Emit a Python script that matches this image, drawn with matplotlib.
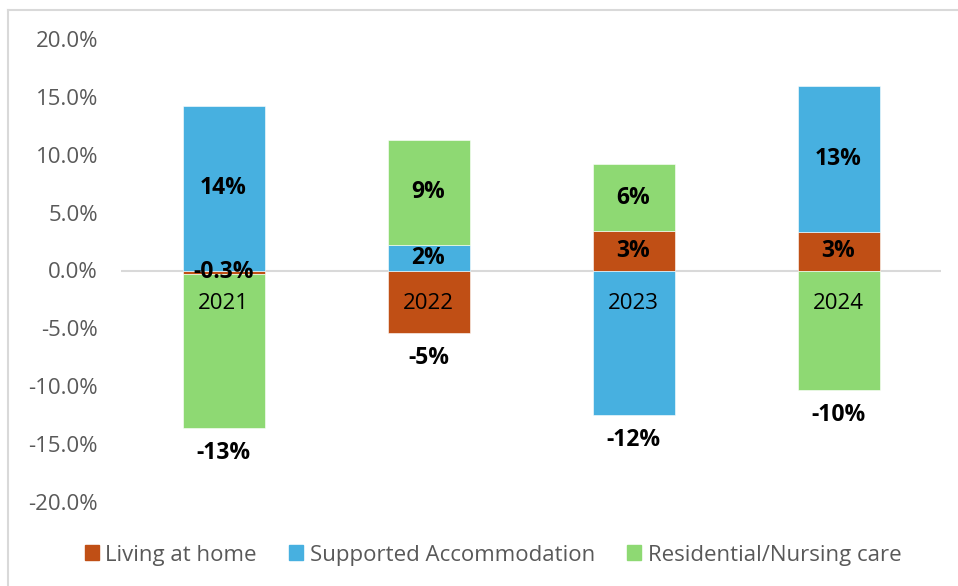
"""Stacked change-by-setting bar chart, 2021-2024."""

import matplotlib

matplotlib.use("Agg")
import matplotlib.pyplot as plt
import matplotlib.patches as mpatches
from matplotlib.lines import Line2D
from matplotlib.ticker import FuncFormatter

# Data (% change)
years = ["2021", "2022", "2023", "2024"]
series_names = ["Living at home", "Supported Accommodation", "Residential/Nursing care"]
living_at_home = [-0.3, -5.4, 3.4, 3.3]
supported_accommodation = [14.25, 2.2, -12.49, 12.6]
residential_nursing = [-13.35, 9.1, 5.8, -10.35]
y_ticks = [-20, -15, -10, -5, 0, 5, 10, 15, 20]

# Style
COLORS = ["#C04F15", "#47B0E0", "#8ED973"]
TICK_COLOR = "#595959"
ZERO_COLOR = "#D9D9D9"
BORDER_COLOR = "#D9D9D9"
FONT = ["Open Sans", "DejaVu Sans"]
FS = 16
FS_VALUE = 16.5
BAR_WIDTH = 0.4

plt.rcParams["font.family"] = FONT

W, H = 958, 586
fig = plt.figure(figsize=(W / 100, H / 100), dpi=100)
ax = fig.add_axes([121 / W, 1 - 502 / H, 820 / W, 463 / H])

all_series = [living_at_home, supported_accommodation, residential_nursing]

pos_base = [0.0] * len(years)
neg_base = [0.0] * len(years)
for name, values, color in zip(series_names, all_series, COLORS):
    for i, v in enumerate(values):
        base = pos_base[i] if v >= 0 else neg_base[i]
        ax.bar(i, v, bottom=base, width=BAR_WIDTH, color=color,
               edgecolor="white", linewidth=0.4, zorder=3)
        text = f"{v:.1f}%" if abs(v) < 1 else f"{round(v):.0f}%"
        if v < -1:
            # big negative segments are labelled under the bar
            ax.annotate(text, (i, base + v), xytext=(0, -18),
                        textcoords="offset points", ha="center", va="center",
                        fontsize=FS_VALUE, fontweight="bold", color="black", zorder=5)
        else:
            ax.text(i, base + v / 2, text, ha="center", va="center",
                    fontsize=FS_VALUE, fontweight="bold", color="black", zorder=5)
        if v >= 0:
            pos_base[i] += v
        else:
            neg_base[i] += v

# category labels sit just under the zero line
for i, yr in enumerate(years):
    ax.annotate(yr, (i, 0), xytext=(0, -23.5), textcoords="offset points",
                ha="center", va="center", fontsize=FS, color="black", zorder=5)

ax.axhline(0, color=ZERO_COLOR, linewidth=1.5, zorder=2)

ax.set_xlim(-0.5, len(years) - 0.5)
ax.set_ylim(-20, 20)
ax.set_yticks(y_ticks)
ax.yaxis.set_major_formatter(FuncFormatter(lambda v, _: f"{v:.1f}%"))
ax.tick_params(axis="y", length=0, pad=16.5, labelsize=FS, labelcolor=TICK_COLOR)
ax.set_xticks([])
for sp in ax.spines.values():
    sp.set_visible(False)

# chart-area border (only top and left show in the crop)
fig.add_artist(Line2D([7.5 / W, 7.5 / W], [0, 1 - 10 / H], transform=fig.transFigure,
                      color=BORDER_COLOR, linewidth=1.5))
fig.add_artist(Line2D([7.5 / W, 1], [1 - 10 / H, 1 - 10 / H], transform=fig.transFigure,
                      color=BORDER_COLOR, linewidth=1.5))

handles = [mpatches.Patch(color=c, label=n) for n, c in zip(series_names, COLORS)]
fig.legend(handles=handles, loc="center", bbox_to_anchor=(493 / W, 1 - 555 / H),
           ncol=3, frameon=False, fontsize=FS, labelcolor=TICK_COLOR,
           handlelength=0.63, handleheight=0.63, handletextpad=0.3,
           columnspacing=1.45, borderaxespad=0)

fig.savefig("out.png", dpi=100, facecolor="white")
